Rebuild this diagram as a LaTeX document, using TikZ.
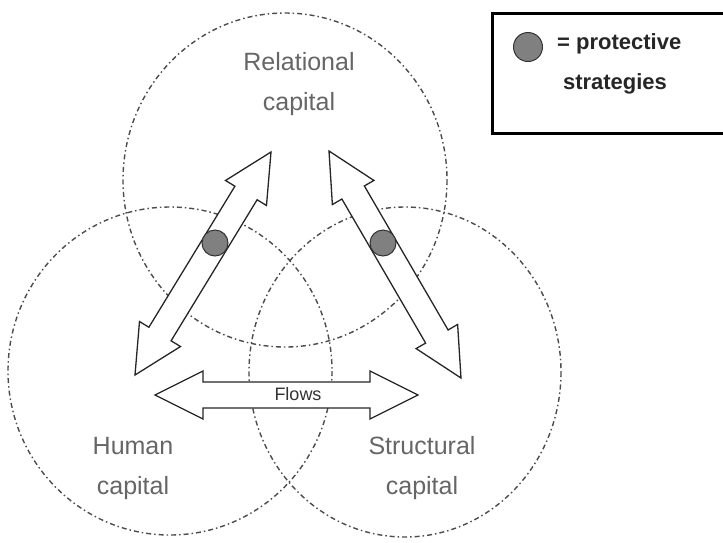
\documentclass[tikz,border=0pt]{standalone}
\usepackage{fontspec}
\setmainfont{Liberation Sans}
\usetikzlibrary{calc}
\tikzset{
  capcircle/.style={draw=black!70, line width=1.4pt, dash pattern=on 5pt off 3pt on 1.5pt off 3pt},
  bigarrow/.style={draw=black!85, line width=1.3pt, fill=white, line join=miter},
  stratdot/.style={circle, draw=black!80, line width=1pt, fill=black!50, minimum size=26pt, inner sep=0pt},
  caplabel/.style={align=center, text=black!60, font=\fontsize{25}{40}\selectfont},
  flowlabel/.style={text=black!80, font=\fontsize{18}{20}\selectfont},
  legendtext/.style={text=black!85, font=\bfseries\fontsize{22}{24}\selectfont, inner sep=0pt}
}
\newcommand\hlen{48pt}
\newcommand\hhalf{24pt}
\newcommand\shalf{13pt}
\newcommand\dblarrow[2]{%
  \path coordinate (pa) at ($(#1)!\hlen!(#2)$) coordinate (pb) at ($(#2)!\hlen!(#1)$);
  \draw[bigarrow] (#1)
    -- ($(pa)!\hhalf!90:(#2)$) -- ($(pa)!\shalf!90:(#2)$)
    -- ($(pb)!\shalf!-90:(#1)$) -- ($(pb)!\hhalf!-90:(#1)$)
    -- (#2)
    -- ($(pb)!\hhalf!90:(#1)$) -- ($(pb)!\shalf!90:(#1)$)
    -- ($(pa)!\shalf!-90:(#2)$) -- ($(pa)!\hhalf!-90:(#2)$)
    -- cycle;}
\begin{document}
\begin{tikzpicture}[x=1pt, y=-1pt]
\useasboundingbox (0,0) rectangle (723,542);
\fill[white] (0,0) rectangle (723,542);
% circles
\draw[capcircle] (285,180) ellipse [x radius=162, y radius=167];
\draw[capcircle] (170,371) ellipse [x radius=162, y radius=164];
\draw[capcircle] (405,372) ellipse [x radius=156, y radius=165];
% labels
\node[caplabel] (rel) at (299,84) {Relational\\capital};
\node[caplabel] (hum) at (133,468) {Human\\capital};
\node[caplabel] (str) at (422,468) {Structural\\capital};
% arrow end points
\coordinate (lt) at (271,152);
\coordinate (lb) at (135,375);
\coordinate (rt) at (329,151);
\coordinate (rb) at (461,378);
\coordinate (fl) at (155,395);
\coordinate (fr) at (418,395);
\dblarrow{lt}{lb}
\dblarrow{rt}{rb}
\dblarrow{fl}{fr}
\node[flowlabel] (flows) at (298,394) {Flows};
% protective strategy dots
\node[stratdot] (dotl) at (215,243) {};
\node[stratdot] (dotr) at (383,243) {};
% legend
\draw[line width=3pt, black] (730,13) -- (492,13) -- (492,133) -- (730,133);
\node[stratdot, minimum size=29pt] (legdot) at (528,47) {};
\node[legendtext, anchor=west] (legt1) at (557,44) {= protective};
\node[legendtext] (legt2) at (615,84) {strategies};
\end{tikzpicture}
\end{document}
